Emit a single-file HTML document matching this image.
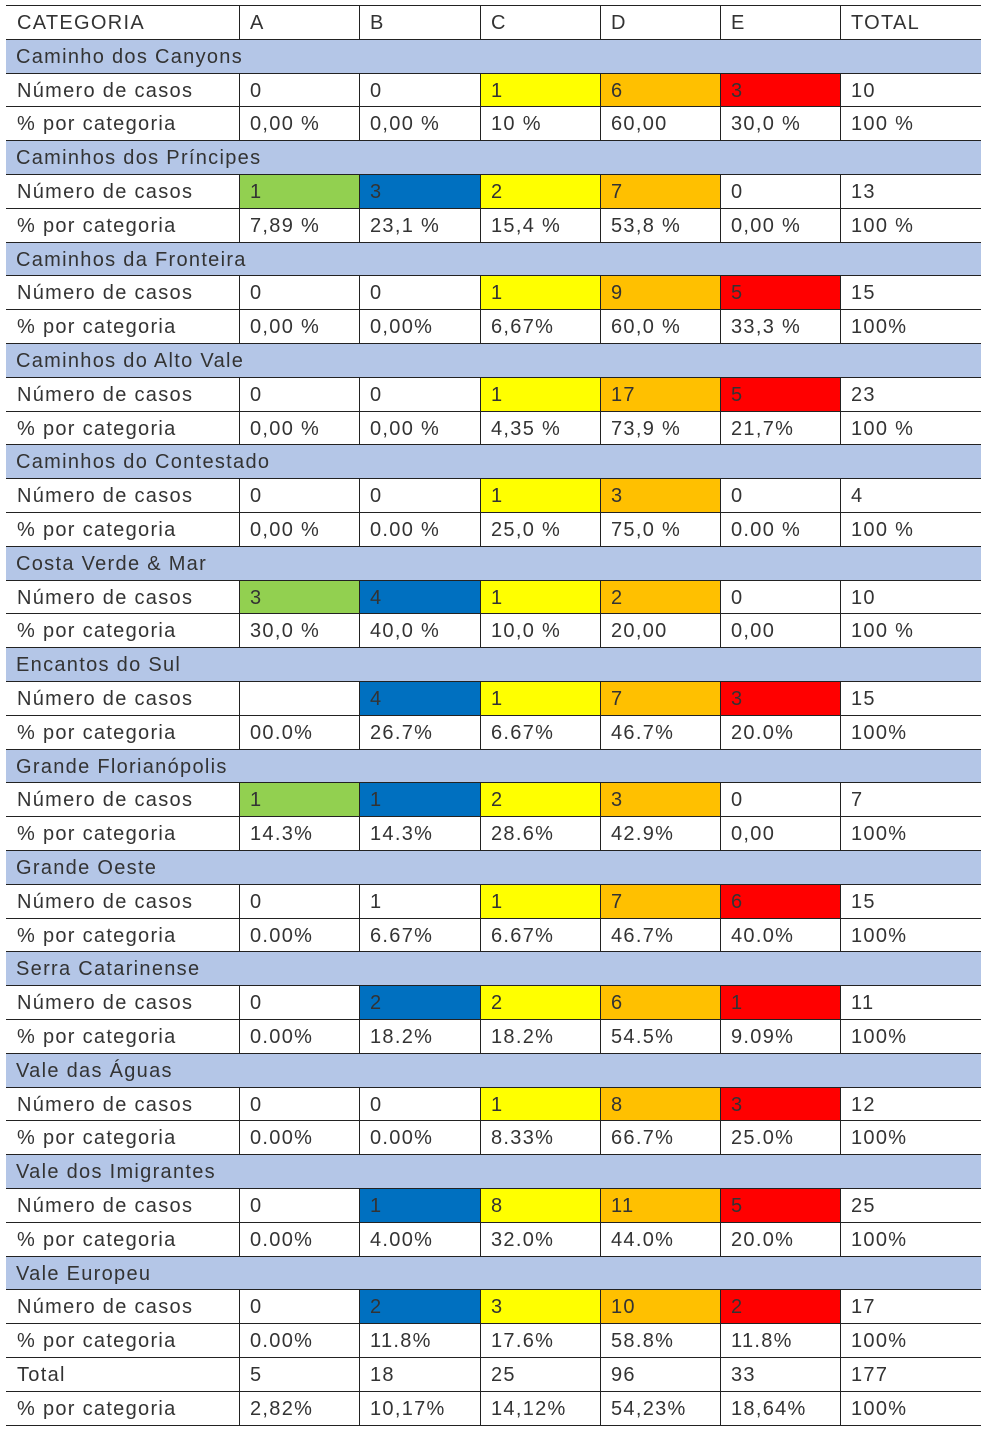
<!DOCTYPE html>
<html><head><meta charset="utf-8">
<style>
body{margin:0;background:#fff;width:985px;height:1430px;overflow:hidden;position:relative;font-family:"Liberation Sans",sans-serif;}
.c{position:absolute;box-sizing:border-box;font-size:20px;color:#333;line-height:36px;padding-left:10px;white-space:nowrap;letter-spacing:1.3px}
.h{position:absolute;left:6px;width:975px;height:1px;background:#222}
.v{position:absolute;width:1px;background:#222}
</style></head><body>
<div id="t"></div>
<script>
const headers=["CATEGORIA","A","B","C","D","E","TOTAL"];
const regions=["Caminho dos Canyons","Caminhos dos Príncipes","Caminhos da Fronteira","Caminhos do Alto Vale","Caminhos do Contestado","Costa Verde & Mar","Encantos do Sul","Grande Florianópolis","Grande Oeste","Serra Catarinense","Vale das Águas","Vale dos Imigrantes","Vale Europeu"];
const counts=[["0","0","1","6","3","10"],["1","3","2","7","0","13"],["0","0","1","9","5","15"],["0","0","1","17","5","23"],["0","0","1","3","0","4"],["3","4","1","2","0","10"],["","4","1","7","3","15"],["1","1","2","3","0","7"],["0","1","1","7","6","15"],["0","2","2","6","1","11"],["0","0","1","8","3","12"],["0","1","8","11","5","25"],["0","2","3","10","2","17"]];
const pcts=[["0,00 %","0,00 %","10 %","60,00","30,0 %","100 %"],["7,89 %","23,1 %","15,4 %","53,8 %","0,00 %","100 %"],["0,00 %","0,00%","6,67%","60,0 %","33,3 %","100%"],["0,00 %","0,00 %","4,35 %","73,9 %","21,7%","100 %"],["0,00 %","0.00 %","25,0 %","75,0 %","0.00 %","100 %"],["30,0 %","40,0 %","10,0 %","20,00","0,00","100 %"],["00.0%","26.7%","6.67%","46.7%","20.0%","100%"],["14.3%","14.3%","28.6%","42.9%","0,00","100%"],["0.00%","6.67%","6.67%","46.7%","40.0%","100%"],["0.00%","18.2%","18.2%","54.5%","9.09%","100%"],["0.00%","0.00%","8.33%","66.7%","25.0%","100%"],["0.00%","4.00%","32.0%","44.0%","20.0%","100%"],["0.00%","11.8%","17.6%","58.8%","11.8%","100%"]];
const colored=[[0,0,1,1,1],[1,1,1,1,0],[0,0,1,1,1],[0,0,1,1,1],[0,0,1,1,0],[1,1,1,1,0],[0,1,1,1,1],[1,1,1,1,0],[0,0,1,1,1],[0,1,1,1,1],[0,0,1,1,1],[0,1,1,1,1],[0,1,1,1,1]];
const totals=["5","18","25","96","33","177"];
const totalPcts=["2,82%","10,17%","14,12%","54,23%","18,64%","100%"];
const catColors=["#92d050","#0070c0","#ffff00","#ffc000","#ff0000"];
const xs=[6,239,359,480,600,720,840,981];
const T=document.getElementById('t');
const RH=33.8,Y0=5;
let row=0;
function hline(y){const d=document.createElement('div');d.className='h';d.style.top=Math.round(y)+'px';


T.appendChild(d);}
function vlines(y){for(let i=1;i<7;i++){const d=document.createElement('div');d.className='v';d.style.left=xs[i]+'px';d.style.top=Math.round(y)+'px';d.style.height=(Math.round(y+RH)-Math.round(y))+'px';


T.appendChild(d);}}
function cell(i,y,txt,bg,name){const d=document.createElement('div');d.className='c';
d.style.left=(xs[i]+1)+'px';d.style.width=(xs[i+1]-xs[i]-1)+'px';d.style.top=Math.round(y)+'px';d.style.height=(Math.round(y+RH)-Math.round(y))+'px';
if(bg)d.style.background=bg;d.textContent=txt;


T.appendChild(d);}
function dataRow(vals,label,cols,name){const y=Y0+row*RH;vlines(y);cell(0,y,label,null,name+'-label');
vals.forEach((v,i)=>cell(i+1,y,v,cols&&i<5&&cols[i]?catColors[i]:null,name+'-cell'));hline(y);row++;}
function groupRow(title){const y=Y0+row*RH;const d=document.createElement('div');d.className='c';d.style.left='6px';d.style.width='975px';d.style.top=Math.round(y)+'px';d.style.height=(Math.round(y+RH)-Math.round(y))+'px';d.style.background='#b4c6e7';d.textContent=title;


T.appendChild(d);hline(y);row++;}
dataRow(headers.slice(1),headers[0],null,'header');
regions.forEach((r,k)=>{groupRow(r);dataRow(counts[k],'Número de casos',colored[k],'case-count');dataRow(pcts[k],'% por categoria',null,'category-percent');});
dataRow(totals,'Total',null,'total');
dataRow(totalPcts,'% por categoria',null,'total-percent');
hline(Y0+row*RH);
</script>
</body></html>
